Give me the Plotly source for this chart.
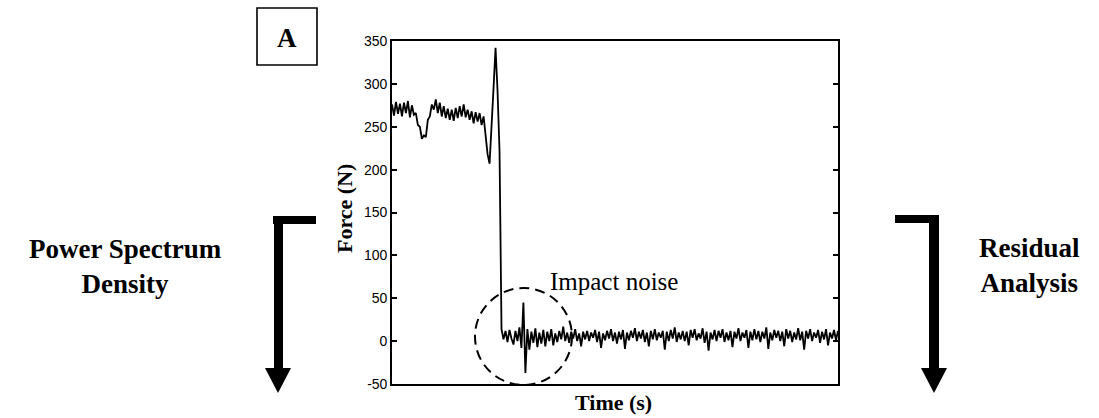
import plotly.graph_objects as go

# ---------------- data ----------------
SAMPLE_STEP_S = 0.02

FORCE_BEFORE_IMPACT = [
    276, 263, 279, 265, 277, 262, 278, 266, 280, 261,
    275, 264, 266, 252, 250, 236, 240, 238, 258, 262,
    276, 270, 282, 266, 278, 262, 274, 260, 271, 258,
    270, 257, 272, 260, 274, 262, 276, 261, 270, 258,
    268, 254, 267, 256, 266, 252, 262, 238, 218, 207,
    245, 295, 342, 292, 222,
]

FORCE_AFTER_IMPACT = [
    14, 2, 12, -1, 13, 3, -4, 12, 0, 16,
    -8, 45, -37, 14, -10, 11, -2, 15, -7, 10,
    -3, 13, -6, 11, 0, 14, -5, 9, -1, 12,
    2, 17, 0, 10, -2, 11, 3, 14, 0, 9,
    -6, 11, 2, 12, 0, 10, 4, 13, -1, 11,
    -8, 9, 1, 12, 3, 14, 0, 10, -3, 11,
    2, 13, -9, 10, 1, 12, 4, 15, 0, 11,
    3, 13, -1, 10, -6, 12, 2, 14, 1, 10,
    4, 12, -10, 11, 0, 13, 3, 16, -1, 10,
    2, 12, 0, 11, -5, 13, 4, 14, 1, 9,
    3, 15, -2, 11, -11, 10, 2, 13, 0, 12,
    4, 14, -1, 10, 1, 12, -7, 11, 3, 15,
    0, 10, 4, 13, -8, 11, 1, 14, 2, 12,
    -1, 11, 3, 16, -9, 10, 1, 13, 4, 12,
    0, 11, -6, 14, 3, 12, -1, 10, 2, 15,
    1, 11, -10, 12, 3, 14, 0, 10, 4, 13,
    -2, 11, 2, 14, -5, 10, 3, 13, 1, 12,
]

Y_TICKS = [-50, 0, 50, 100, 150, 200, 250, 300, 350]
Y_TICK_LABELS = ["-50", "0", "50", "100", "150", "200", "250", "300", "350"]

PANEL_LABEL = "A"
Y_TITLE = "Force (N)"
X_TITLE = "Time (s)"
NOISE_LABEL = "Impact noise"
LEFT_TEXT = ["Power Spectrum", "Density"]
RIGHT_TEXT = ["Residual", "Analysis"]

force = FORCE_BEFORE_IMPACT + FORCE_AFTER_IMPACT
time = [i * SAMPLE_STEP_S for i in range(len(force))]

# ---------------- layout geometry ----------------
W, H = 1099, 418
L, R, T, B = 392, 838, 41, 384  # plot area in pixels


def px(x):
    return (x - L) / (R - L)


def py(y):
    return (B - y) / (B - T)


SERIF = "Liberation Serif, Times New Roman, serif"
SANS = "Liberation Sans, Arial, sans-serif"

fig = go.Figure()
fig.add_trace(go.Scatter(
    x=time, y=force, mode="lines",
    line=dict(color="black", width=1.8),
    hoverinfo="skip", showlegend=False,
))

fig.update_layout(
    width=W, height=H,
    margin=dict(l=L, r=W - R, t=T, b=H - B, pad=0),
    paper_bgcolor="white", plot_bgcolor="white",
    xaxis=dict(
        range=[0, time[-1]], showgrid=False, zeroline=False,
        showline=True, linecolor="black", linewidth=1.6, mirror=True,
        ticks="", showticklabels=False,
    ),
    yaxis=dict(
        range=[-50, 350], showgrid=False, zeroline=False,
        showline=True, linecolor="black", linewidth=1.6, mirror="ticks",
        ticks="inside", ticklen=5, tickwidth=1.5, tickcolor="black",
        tickvals=Y_TICKS, ticktext=Y_TICK_LABELS,
        tickfont=dict(family=SANS, size=14, color="black"),
    ),
)

shapes = []
# dashed circle around impact noise
shapes.append(dict(
    type="circle", xref="paper", yref="paper",
    x0=px(475), x1=px(572), y0=py(385), y1=py(288),
    line=dict(color="black", width=2, dash="10px,6px"), layer="above",
))
# panel label box
shapes.append(dict(
    type="rect", xref="paper", yref="paper",
    x0=px(257), x1=px(317), y0=py(65), y1=py(8),
    line=dict(color="black", width=1.6),
))


def bar(x0, x1, y0, y1):
    return dict(type="rect", xref="paper", yref="paper",
                x0=px(x0), x1=px(x1), y0=py(y1), y1=py(y0),
                fillcolor="black", line=dict(width=0))


def head(xl, xr, ytop, ytip):
    xm = (xl + xr) / 2
    path = (f"M {px(xl)},{py(ytop)} L {px(xr)},{py(ytop)} "
            f"L {px(xm)},{py(ytip)} Z")
    return dict(type="path", xref="paper", yref="paper", path=path,
                fillcolor="black", line=dict(width=0))


# left arrow
shapes.append(bar(273, 316, 216, 224))
shapes.append(bar(274, 283, 216, 369))
shapes.append(head(265, 291, 368, 393))
# right arrow
shapes.append(bar(895, 939, 215, 223))
shapes.append(bar(929, 939, 215, 369))
shapes.append(head(921, 947, 368, 393))
fig.update_layout(shapes=shapes)


def ann(text, x, y, size, bold=False, family=SERIF, angle=0):
    return dict(
        text=f"<b>{text}</b>" if bold else text,
        xref="paper", yref="paper", x=px(x), y=py(y),
        xanchor="center", yanchor="middle", showarrow=False,
        textangle=angle, font=dict(family=family, size=size, color="black"),
    )


annotations = [
    ann(PANEL_LABEL, 287, 38, 27, bold=True),
    ann(Y_TITLE, 344, 209, 22, bold=True, angle=-90),
    ann(X_TITLE, 613, 402, 22, bold=True),
    ann(NOISE_LABEL, 614, 281, 25),
    ann("<br>".join(f"<b>{t}</b>" for t in LEFT_TEXT), 125, 266, 27),
    ann("<br>".join(f"<b>{t}</b>" for t in RIGHT_TEXT), 1029, 265, 27),
]
fig.update_layout(annotations=annotations)

fig.write_html("out.html")
